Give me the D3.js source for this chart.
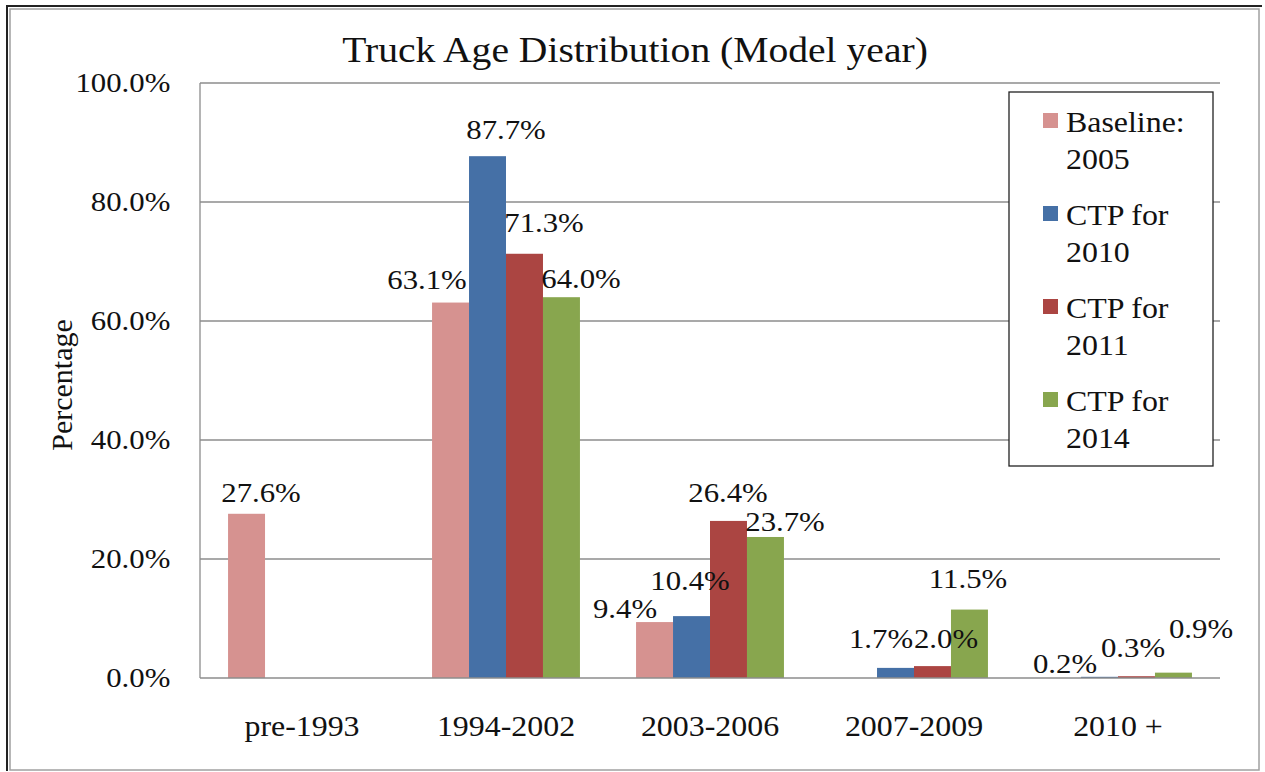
<!DOCTYPE html>
<html lang="en">
<head>
  <meta charset="UTF-8">
  <title>Truck Age Distribution</title>
  <script src="https://d3js.org/d3.v7.min.js"></script>
  <style type="text/css">
    body { margin: 0; background: #fff; }
    .grid line { stroke: #8c8c8c; stroke-width: 1.3; }
    .axis path { stroke: #8c8c8c; stroke-width: 1.3; }
  </style>
</head>
<body>
<script>

  // data
  var categories = ["pre-1993", "1994-2002", "2003-2006", "2007-2009", "2010 +"];
  var seriesNames = [["Baseline:", "2005"], ["CTP for", "2010"], ["CTP for", "2011"], ["CTP for", "2014"]];
  var baseline2005 = [27.6, 63.1, 9.4, null, null];
  var ctp2010 = [null, 87.7, 10.4, 1.7, 0.2];
  var ctp2011 = [null, 71.3, 26.4, 2.0, 0.3];
  var ctp2014 = [null, 64.0, 23.7, 11.5, 0.9];
  var yTicks = [0, 20, 40, 60, 80, 100];

  var series = [baseline2005, ctp2010, ctp2011, ctp2014];
  var colors = ["#d69290", "#4570a6", "#ab4542", "#88a64e"];

  // labels were dragged around in the original, keep their nudges [dx, dy]
  var labelShift = [
    [[14, -12], [-24, -14], [-30, -4], null, null],
    [null, [18, -17], [-2, -26], [-15, -20], [-35, -4]],
    [null, [20, -22], [0, -19], [14, -18], [-3, -19]],
    [null, [20, -9], [20, -6], [-1, -22], [28, -35]]
  ];

  var W = 1265, H = 772;
  var stretch = 1.1; // text in the picture is a little wide
  var serif = "Liberation Serif";

  var svg = d3.select("body").append("svg")
    .attr("width", W)
    .attr("height", H)
    .attr("font-family", serif);

  // frame
  svg.append("rect")
    .attr("x", 10).attr("y", 9)
    .attr("width", 1249).attr("height", 761)
    .attr("fill", "none")
    .attr("stroke", "#a0a0a0")
    .attr("stroke-width", 1.5);
  svg.append("path")
    .attr("d", "M7,771V6H1262")
    .attr("fill", "none")
    .attr("stroke", "#222")
    .attr("stroke-width", 2);

  var plot = {left: 200, right: 1220, top: 83, bottom: 678};

  var x0 = d3.scaleBand()
    .domain(categories)
    .range([plot.left, plot.right])
    .paddingInner(0.275)
    .paddingOuter(0.1375);

  var x1 = d3.scaleBand()
    .domain(d3.range(series.length))
    .range([0, x0.bandwidth()]);

  var y = d3.scaleLinear()
    .domain([0, 100])
    .range([plot.bottom, plot.top]);

  // gridlines
  svg.append("g")
    .attr("class", "grid")
    .selectAll("line")
    .data(yTicks.filter(function(d) { return d > 0; }))
    .enter().append("line")
    .attr("x1", plot.left).attr("x2", plot.right)
    .attr("y1", function(d) { return y(d); })
    .attr("y2", function(d) { return y(d); });

  // bars
  series.forEach(function(vals, s) {
    svg.append("g")
      .selectAll("rect")
      .data(vals.map(function(v, i) { return {v: v, i: i}; }).filter(function(d) { return d.v != null; }))
      .enter().append("rect")
      .attr("x", function(d) { return x0(categories[d.i]) + x1(s); })
      .attr("y", function(d) { return y(d.v); })
      .attr("width", x1.bandwidth())
      .attr("height", function(d) { return y(0) - y(d.v); })
      .attr("fill", colors[s]);
  });

  // axes
  var yAxis = svg.append("g")
    .attr("class", "axis")
    .attr("transform", "translate(" + plot.left + ",0)")
    .call(d3.axisLeft(y).tickValues(yTicks).tickSize(0).tickPadding(27)
      .tickFormat(function(d) { return d.toFixed(1) + "%"; }));
  yAxis.selectAll("text")
    .attr("font-size", 28)
    .attr("transform", "scale(" + stretch + ",1)");

  var xAxis = svg.append("g")
    .attr("class", "axis")
    .attr("transform", "translate(0," + plot.bottom + ")")
    .call(d3.axisBottom(x0).tickSize(0).tickPadding(37));
  xAxis.selectAll("text")
    .attr("font-size", 29)
    .attr("transform", "scale(" + stretch + ",1)");
  xAxis.select(".domain").attr("d", "M" + plot.left + ",0H" + plot.right);
  yAxis.select(".domain").attr("d", "M0," + plot.bottom + "V" + plot.top);
  svg.selectAll(".axis").attr("font-family", serif);
  svg.selectAll(".axis text").attr("fill", "#111");

  // stretched serif text: outer g places it, the text itself only scales
  function wideText(x, yy, str, size, anchor) {
    return svg.append("g")
      .attr("transform", "translate(" + Math.round(x) + "," + Math.round(yy) + ")")
      .append("text")
      .attr("transform", "scale(" + stretch + ",1)")
      .attr("text-anchor", anchor || "middle")
      .attr("font-family", serif)
      .attr("font-size", size)
      .attr("fill", "#111")
      .text(str);
  }

  // data labels
  series.forEach(function(vals, s) {
    vals.forEach(function(v, i) {
      if (v == null) return;
      var sh = labelShift[s][i] || [0, -15];
      var cx = x0(categories[i]) + x1(s) + x1.bandwidth() / 2;
      wideText(cx + sh[0], y(v) + sh[1], v.toFixed(1) + "%", 28);
    });
  });

  // title and y label
  wideText(635, 62, "Truck Age Distribution (Model year)", 36);
  svg.append("text")
    .attr("transform", "translate(72,385) rotate(-90)")
    .attr("text-anchor", "middle")
    .attr("font-family", serif)
    .attr("font-size", 30)
    .attr("fill", "#111")
    .text("Percentage");

  // legend
  svg.append("rect")
    .attr("x", 1009).attr("y", 92)
    .attr("width", 204).attr("height", 374)
    .attr("fill", "#fff")
    .attr("stroke", "#222")
    .attr("stroke-width", 1.3);
  seriesNames.forEach(function(name, s) {
    var base = 132 + s * 93;
    svg.append("rect")
      .attr("x", 1043).attr("y", base - 19)
      .attr("width", 15).attr("height", 15)
      .attr("fill", colors[s]);
    wideText(1066, base, name[0], 29, "start");
    wideText(1066, base + 37, name[1], 29, "start");
  });

</script>
</body>
</html>
